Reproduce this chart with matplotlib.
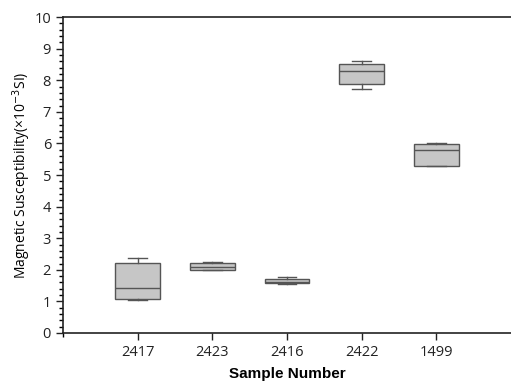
import matplotlib
matplotlib.use("Agg")
import matplotlib.pyplot as plt
from matplotlib.ticker import MultipleLocator, FixedLocator

samples = ["2417", "2423", "2416", "2422", "1499"]
mins = [1.03, 1.99, 1.55, 7.72, 5.28]
q1s = [1.07, 1.99, 1.57, 7.89, 5.30]
medians = [1.41, 2.10, 1.62, 8.31, 5.79]
q3s = [2.21, 2.21, 1.70, 8.53, 5.99]
maxs = [2.37, 2.24, 1.77, 8.62, 6.02]

plt.rcParams['font.family'] = ['Open Sans', 'DejaVu Sans']

fig = plt.figure(figsize=(5.11, 3.81), dpi=100)
ax = fig.add_axes([0.123, 0.126, 0.877, 0.829])

stats = []
for s, lo, a, m, b, hi in zip(samples, mins, q1s, medians, q3s, maxs):
    stats.append(dict(label=s, whislo=lo, q1=a, med=m, q3=b, whishi=hi, fliers=[]))

edge = "#555555"
ax.bxp(stats, positions=range(1, len(samples) + 1), widths=0.6, patch_artist=True,
       showfliers=False, capwidths=0.25,
       boxprops=dict(facecolor="#c6c6c6", edgecolor=edge, linewidth=1.0),
       medianprops=dict(color=edge, linewidth=1.0),
       whiskerprops=dict(color=edge, linewidth=1.0),
       capprops=dict(color=edge, linewidth=1.0))

ax.set_xlim(0, 6)
ax.set_ylim(0, 10)
ax.set_xticks(range(1, len(samples) + 1))
ax.set_xticklabels(samples)
ax.xaxis.set_minor_locator(FixedLocator([0]))
ax.yaxis.set_major_locator(MultipleLocator(1))
ax.yaxis.set_minor_locator(MultipleLocator(0.2))
ax.tick_params(axis='both', which='major', direction='out', length=5, width=1, labelsize=10.5, colors='#222222')
ax.tick_params(axis='both', which='minor', direction='out', length=3, width=1)
ax.spines['right'].set_visible(False)
for sp in ['left', 'top', 'bottom']:
    ax.spines[sp].set_linewidth(1.2)
    ax.spines[sp].set_color('#222222')

ax.set_ylabel("Magnetic Susceptibility(×10$^{-3}$SI)", fontsize=10, labelpad=1)
ax.set_xlabel("Sample Number", fontsize=11, fontweight='bold', family=['Liberation Sans', 'DejaVu Sans'], labelpad=5)

fig.savefig("out.png", dpi=100)
